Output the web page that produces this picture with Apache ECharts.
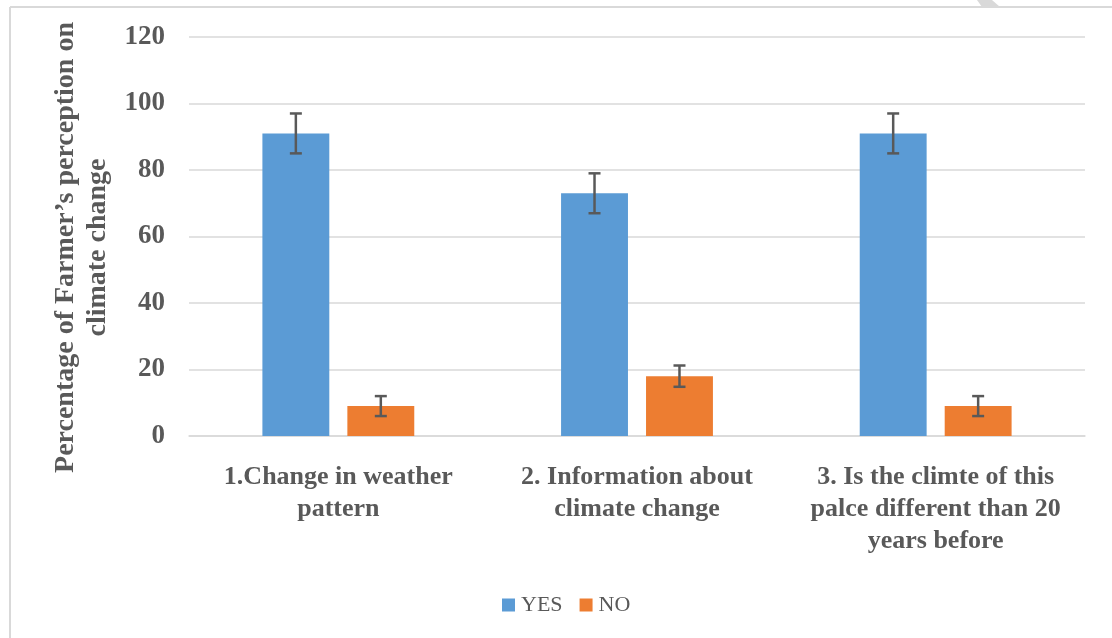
<!DOCTYPE html>
<html>
<head>
<meta charset="utf-8">
<script src="https://cdn.jsdelivr.net/npm/echarts@6/dist/echarts.min.js"></script>
<style>
html,body{margin:0;padding:0;background:#fff;}
#main{width:1112px;height:638px;}
</style>
</head>
<body>
<div id="main"></div>
<script>
var categories = [
  "1.Change in weather\npattern",
  "2. Information about\nclimate change",
  "3. Is the climte of this\npalce different than 20\nyears before"
];
var seriesNames = ["YES", "NO"];
var yesValues = [91, 73, 91];
var noValues = [9, 18, 9];
var yesErrors = [6, 6, 6];
var noErrors = [3, 3.2, 3];
var yTicks = { min: 0, max: 120, interval: 20 };
var yTitle = "Percentage of Farmer\u2019s perception on\nclimate change";

var FONT = "'Liberation Serif', 'Times New Roman', serif";
var TXT = "#595959";
var GRIDC = "#d9d9d9";
var BAR_W_RATIO = 0.224;
var BAR_GAP_RATIO = 0.27;

function errorSeries(name, values, errors, sign) {
  var data = values.map(function (v, i) { return [i, v - errors[i], v + errors[i]]; });
  return {
    type: "custom",
    name: name + " error",
    silent: true,
    z: 10,
    data: data,
    renderItem: function (params, api) {
      var idx = api.value(0);
      var lo = api.coord([idx, api.value(1)]);
      var hi = api.coord([idx, api.value(2)]);
      var band = api.size([1, 0])[0];
      var bw = band * BAR_W_RATIO;
      var off = sign * (bw + bw * BAR_GAP_RATIO) / 2;
      var x = lo[0] + off;
      var cap = 6;
      var style = { stroke: TXT, lineWidth: 2.5, fill: null };
      return {
        type: "group",
        children: [
          { type: "line", shape: { x1: x, y1: hi[1], x2: x, y2: lo[1] }, style: style },
          { type: "line", shape: { x1: x - cap, y1: hi[1], x2: x + cap, y2: hi[1] }, style: style },
          { type: "line", shape: { x1: x - cap, y1: lo[1], x2: x + cap, y2: lo[1] }, style: style }
        ]
      };
    }
  };
}

var chart = echarts.init(document.getElementById("main"), null, { renderer: "canvas" });
chart.setOption({
  backgroundColor: "#ffffff",
  animation: false,
  textStyle: { fontFamily: FONT },
  grid: { left: 189, right: 27, top: 37, bottom: 202, containLabel: false, outerBoundsMode: "none" },
  legend: {
    data: seriesNames,
    bottom: 22,
    left: 502,
    padding: 0,
    icon: "rect",
    itemWidth: 13,
    itemHeight: 13,
    itemGap: 17,
    textStyle: { fontFamily: FONT, fontSize: 22, color: TXT, padding: [0, 0, 0, 1] }
  },
  xAxis: {
    type: "category",
    data: categories,
    axisLine: { show: true, lineStyle: { color: GRIDC, width: 1.5 } },
    axisTick: { show: false },
    axisLabel: {
      interval: 0,
      margin: 25,
      fontFamily: FONT,
      fontWeight: "bold",
      fontSize: 26,
      lineHeight: 32,
      color: TXT,
      align: "center"
    }
  },
  yAxis: {
    type: "value",
    min: yTicks.min,
    max: yTicks.max,
    interval: yTicks.interval,
    name: yTitle,
    nameLocation: "middle",
    nameRotate: 90,
    nameGap: 68,
    nameTextStyle: { fontFamily: FONT, fontWeight: "bold", fontSize: 28, lineHeight: 32, color: TXT, align: "center", padding: [0, 22, 0, 0] },
    axisLine: { show: false },
    axisTick: { show: false },
    splitLine: { lineStyle: { color: GRIDC, width: 1.5 } },
    axisLabel: { margin: 24, fontFamily: FONT, fontWeight: "bold", fontSize: 27, color: TXT }
  },
  series: [
    {
      name: "YES",
      type: "bar",
      data: yesValues,
      barWidth: (BAR_W_RATIO * 100) + "%",
      barGap: (BAR_GAP_RATIO * 100) + "%",
      itemStyle: { color: "#5B9BD5" }
    },
    {
      name: "NO",
      type: "bar",
      data: noValues,
      barWidth: (BAR_W_RATIO * 100) + "%",
      barGap: (BAR_GAP_RATIO * 100) + "%",
      itemStyle: { color: "#ED7D31" }
    },
    errorSeries("YES", yesValues, yesErrors, -1),
    errorSeries("NO", noValues, noErrors, 1)
  ],
  graphic: [
    { type: "line", shape: { x1: 10, y1: 7, x2: 1112, y2: 7 }, style: { stroke: GRIDC, lineWidth: 2 }, silent: true },
    { type: "line", shape: { x1: 10, y1: 7, x2: 10, y2: 638 }, style: { stroke: GRIDC, lineWidth: 2 }, silent: true },
    { type: "polygon", shape: { points: [[977, 0], [992, 0], [1000, 7], [982, 7]] }, style: { fill: GRIDC }, silent: true }
  ]
});
</script>
</body>
</html>
